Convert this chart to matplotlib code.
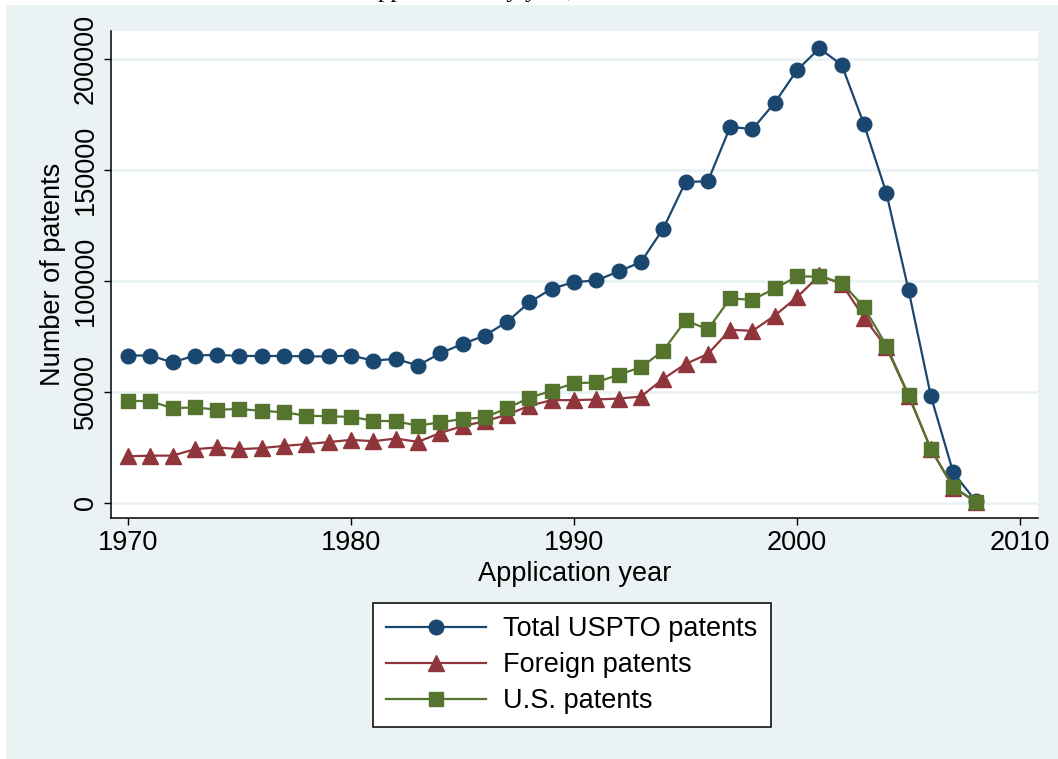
import matplotlib
matplotlib.use("Agg")
import matplotlib.pyplot as plt
from matplotlib.patches import Rectangle
from matplotlib.ticker import FuncFormatter

plt.rcParams["font.family"] = ["Liberation Sans", "DejaVu Sans"]

years = list(range(1970, 2009))
total = [66400, 66400, 63300, 66400, 66700, 66200, 66200, 66200, 66000, 66000,
         66400, 64100, 64900, 61900, 67400, 71600, 75400, 81600, 90400, 96500,
         99500, 100200, 104300, 108500, 123600, 144600, 144900, 169400, 168400, 180300,
         195000, 204800, 197300, 170500, 139700, 95700, 48000, 13700, 900]
foreign = [21000, 21300, 21300, 24200, 25000, 24200, 24700, 25700, 26500, 27400,
           28400, 27800, 29000, 27500, 31500, 34600, 36800, 39700, 43800, 46300,
           46300, 46600, 47000, 47900, 55900, 62600, 67100, 78000, 77500, 84400,
           92700, 102500, 98700, 83400, 70100, 48300, 24200, 6900, 600]
us = [46000, 45800, 42700, 43000, 42000, 42300, 41500, 40800, 39300, 39000,
      38800, 37000, 36800, 34800, 36300, 37800, 38500, 42700, 47300, 50600,
      53900, 54300, 57800, 61100, 68600, 82200, 78200, 92100, 91500, 96600,
      102000, 102000, 99200, 88200, 70900, 48600, 24200, 7200, 600]

x_ticks = [1970, 1980, 1990, 2000, 2010]
y_ticks = [0, 50000, 100000, 150000, 200000]

navy = "#1A476F"
maroon = "#90353B"
green = "#55752F"
bg = "#EAF2F3"
fs = 19.5

fig = plt.figure(figsize=(10.58, 7.59), dpi=100, facecolor="white")
fig.patches.append(Rectangle((6 / 1058, 0), 1 - 6 / 1058, 1 - 5 / 759,
                             transform=fig.transFigure, facecolor=bg,
                             edgecolor="none", zorder=-10))

# caption line of the page above, cut off by the crop (only descenders show)
fig.text(0.445, 1.0 + 3 / 759, "applications by year,", family="Liberation Serif",
         fontsize=18, ha="center", va="baseline")

ax = fig.add_axes([111 / 1058, 1 - 518 / 759, 927 / 1058, 487 / 759])
ax.set_facecolor("white")

ax.plot(years, total, color=navy, lw=1.6, marker="o", ms=10.5, label="Total USPTO patents")
ax.plot(years, foreign, color=maroon, lw=1.6, marker="^", ms=11, label="Foreign patents")
ax.plot(years, us, color=green, lw=1.6, marker="s", ms=9.5, label="U.S. patents")

ax.set_xlim(1969.24, 2010.8)
ax.set_ylim(-6800, 212600)
ax.set_xticks(x_ticks)
ax.set_yticks(y_ticks)
ax.yaxis.set_major_formatter(FuncFormatter(lambda v, p: f"{int(v)}"))
for lab in ax.get_yticklabels():
    lab.set_rotation(90)
    lab.set_va("center")

ax.grid(axis="y", color=bg, lw=2)
ax.set_axisbelow(True)
for s in ["top", "right"]:
    ax.spines[s].set_visible(False)
for s in ["left", "bottom"]:
    ax.spines[s].set_linewidth(1.1)
ax.tick_params(direction="out", length=5, width=1, labelsize=fs, pad=4)

ax.set_xlabel("Application year", fontsize=fs, labelpad=3)
ax.set_ylabel("Number of patents", fontsize=fs, labelpad=5)

leg = fig.legend(loc="upper left", bbox_to_anchor=(373 / 1058, 1 - 603 / 759),
                 fontsize=fs, frameon=True, fancybox=False, edgecolor="black",
                 facecolor="white", framealpha=1,
                 handlelength=3.7, handletextpad=0.63, labelspacing=0.37,
                 borderpad=0.48, borderaxespad=0)
leg.get_frame().set_linewidth(1.1)
for h in leg.legend_handles:
    h.set_linewidth(1.6)

fig.savefig("out.png", dpi=100, facecolor=fig.get_facecolor())
